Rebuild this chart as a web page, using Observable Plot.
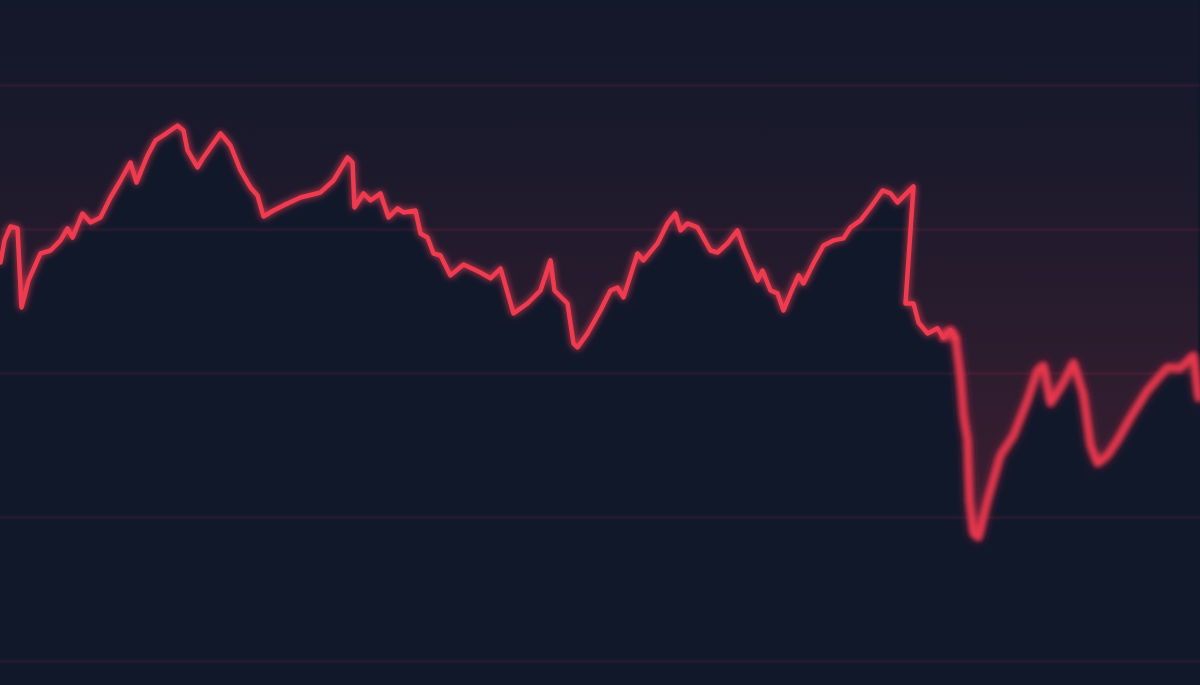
<!DOCTYPE html>
<html>
<head>
<meta charset="utf-8">
<script src="https://cdn.jsdelivr.net/npm/d3@7"></script>
<script src="https://cdn.jsdelivr.net/npm/@observablehq/plot@0.6"></script>
<style>
  html, body { margin: 0; padding: 0; background: #11182a; overflow: hidden; }
  #chart svg { display: block; }
</style>
</head>
<body>
<div id="chart"></div>
<script>
// Time position (session index) and price level
const t = [0, 4, 10, 17, 21, 28, 40, 50, 60, 67, 72, 82, 90, 100, 110, 120, 130, 136, 147, 155,
  163, 177, 183, 187, 197, 203, 220, 230, 240, 250, 257, 263, 273, 283, 300, 320, 333, 347, 352, 354,
  363, 370, 380, 388, 397, 403, 415, 420, 427, 433, 440, 450, 463, 480, 490, 500, 513, 527, 540, 550,
  554, 567, 573, 577, 587, 600, 610, 617, 623, 637, 643, 657, 667, 675, 680, 687, 697, 710, 717, 727,
  737, 743, 752, 757, 762, 770, 777, 783, 790, 798, 803, 813, 823, 833, 843, 850, 860, 870, 882, 890,
  897, 913, 905, 913, 918, 927, 937, 943, 950, 955, 960, 963, 967, 969, 973, 978, 987, 1000, 1013, 1027,
  1037, 1043, 1050, 1063, 1073, 1083, 1090, 1097, 1107, 1117, 1130, 1147, 1167, 1180, 1193, 1198];
const price = [277.1, 292.4, 302.1, 300.7, 245.8, 264.6, 283.3, 285.4, 292.4, 300.7, 294.4, 311.1, 304.9, 308.3, 322.2, 334.0, 346.5, 332.6, 351.4, 361.8,
  365.3, 372.2, 368.8, 354.9, 343.1, 350.0, 366.7, 358.3, 341.0, 329.2, 323.6, 309.0, 313.2, 316.7, 322.2, 325.7, 334.0, 350.0, 346.5, 315.3,
  325.0, 320.1, 325.0, 308.3, 314.6, 311.8, 313.2, 297.2, 294.4, 283.3, 281.9, 268.1, 275.7, 270.1, 266.0, 272.9, 241.7, 248.6, 257.6, 278.5,
  257.6, 248.6, 220.8, 218.1, 227.8, 243.8, 257.6, 259.7, 252.8, 283.3, 278.5, 290.3, 304.2, 311.1, 299.3, 304.2, 301.4, 285.4, 284.0, 290.3,
  299.3, 287.5, 272.9, 264.6, 271.5, 257.6, 255.6, 243.8, 255.6, 268.1, 262.5, 276.4, 288.9, 292.4, 293.8, 301.4, 306.3, 315.3, 327.1, 325.0,
  318.8, 329.9, 248.6, 248.6, 235.4, 227.8, 231.3, 225.0, 229.9, 224.3, 197.2, 170.8, 153.5, 111.8, 88.9, 86.1, 111.8, 143.1, 156.9, 181.3,
  202.1, 205.6, 179.2, 193.8, 207.6, 184.7, 150.0, 137.5, 143.1, 153.5, 169.4, 188.2, 204.2, 203.5, 212.5, 182.6];
const gridLevels = [0, 100, 200, 300, 400];
const splitAt = 955; // where the trace becomes soft-focus

const data = t.map((d, i) => ({t: d, price: price[i], i}));
const splitIndex = data.findIndex(d => d.t === splitAt);
const sharp = data.slice(0, splitIndex + 1);
const soft = data.slice(splitIndex - 2);

const W = 1200, H = 685;
const plot = Plot.plot({
  width: W,
  height: H,
  margin: 0,
  style: {background: "#11182a", overflow: "visible"},
  x: {domain: [0, 1200], axis: null},
  y: {domain: [-16.7, 459], axis: null},
  marks: [
    Plot.areaY(data, {x: "t", y1: "price", y2: 459, fill: "url(#fadeRed)"}),
    Plot.ruleY(gridLevels, {stroke: "#e8374d", strokeOpacity: 0.1, strokeWidth: 3}),
    Plot.line(sharp, {x: "t", y: "price", stroke: "#ef3b50", strokeWidth: 4.5, strokeLinejoin: "round", strokeLinecap: "round"}),
    Plot.line(soft, {x: "t", y: "price", stroke: "#e8394e", strokeWidth: 6, strokeLinejoin: "round", strokeLinecap: "round"})
  ]
});

const svg = d3.select(plot);
const defs = svg.insert("defs", ":first-child");
const grad = defs.append("linearGradient")
  .attr("id", "fadeRed").attr("gradientUnits", "userSpaceOnUse")
  .attr("x1", 0).attr("y1", 0).attr("x2", 0).attr("y2", H);
grad.append("stop").attr("offset", "0").attr("stop-color", "#e8374d").attr("stop-opacity", 0.01);
grad.append("stop").attr("offset", "0.2").attr("stop-color", "#e8374d").attr("stop-opacity", 0.04);
grad.append("stop").attr("offset", "0.5").attr("stop-color", "#e8374d").attr("stop-opacity", 0.12);
grad.append("stop").attr("offset", "0.8").attr("stop-color", "#e8374d").attr("stop-opacity", 0.2);
grad.append("stop").attr("offset", "1").attr("stop-color", "#e8374d").attr("stop-opacity", 0.22);

const glow = defs.append("filter").attr("id", "glow")
  .attr("x", "-5%").attr("y", "-20%").attr("width", "110%").attr("height", "140%");
glow.append("feGaussianBlur").attr("in", "SourceGraphic").attr("stdDeviation", 3.5).attr("result", "b");
glow.append("feGaussianBlur").attr("in", "SourceGraphic").attr("stdDeviation", 0.7).attr("result", "s");
const m1 = glow.append("feMerge");
m1.append("feMergeNode").attr("in", "b");
m1.append("feMergeNode").attr("in", "s");

const softGlow = defs.append("filter").attr("id", "softglow")
  .attr("x", "-10%").attr("y", "-20%").attr("width", "120%").attr("height", "140%");
softGlow.append("feGaussianBlur").attr("in", "SourceGraphic").attr("stdDeviation", 4.5).attr("result", "b1");
softGlow.append("feGaussianBlur").attr("in", "SourceGraphic").attr("stdDeviation", 2.2).attr("result", "b2");
const m2 = softGlow.append("feMerge");
m2.append("feMergeNode").attr("in", "b1");
m2.append("feMergeNode").attr("in", "b2");

const gridBlur = defs.append("filter").attr("id", "gridblur");
gridBlur.append("feGaussianBlur").attr("stdDeviation", 1.2);

svg.selectAll('g[aria-label="rule"]').attr("filter", "url(#gridblur)");
const lines = svg.selectAll('g[aria-label="line"]').nodes();
d3.select(lines[0]).attr("filter", "url(#glow)");
d3.select(lines[1]).attr("filter", "url(#softglow)");

document.getElementById("chart").appendChild(plot);
</script>
</body>
</html>
